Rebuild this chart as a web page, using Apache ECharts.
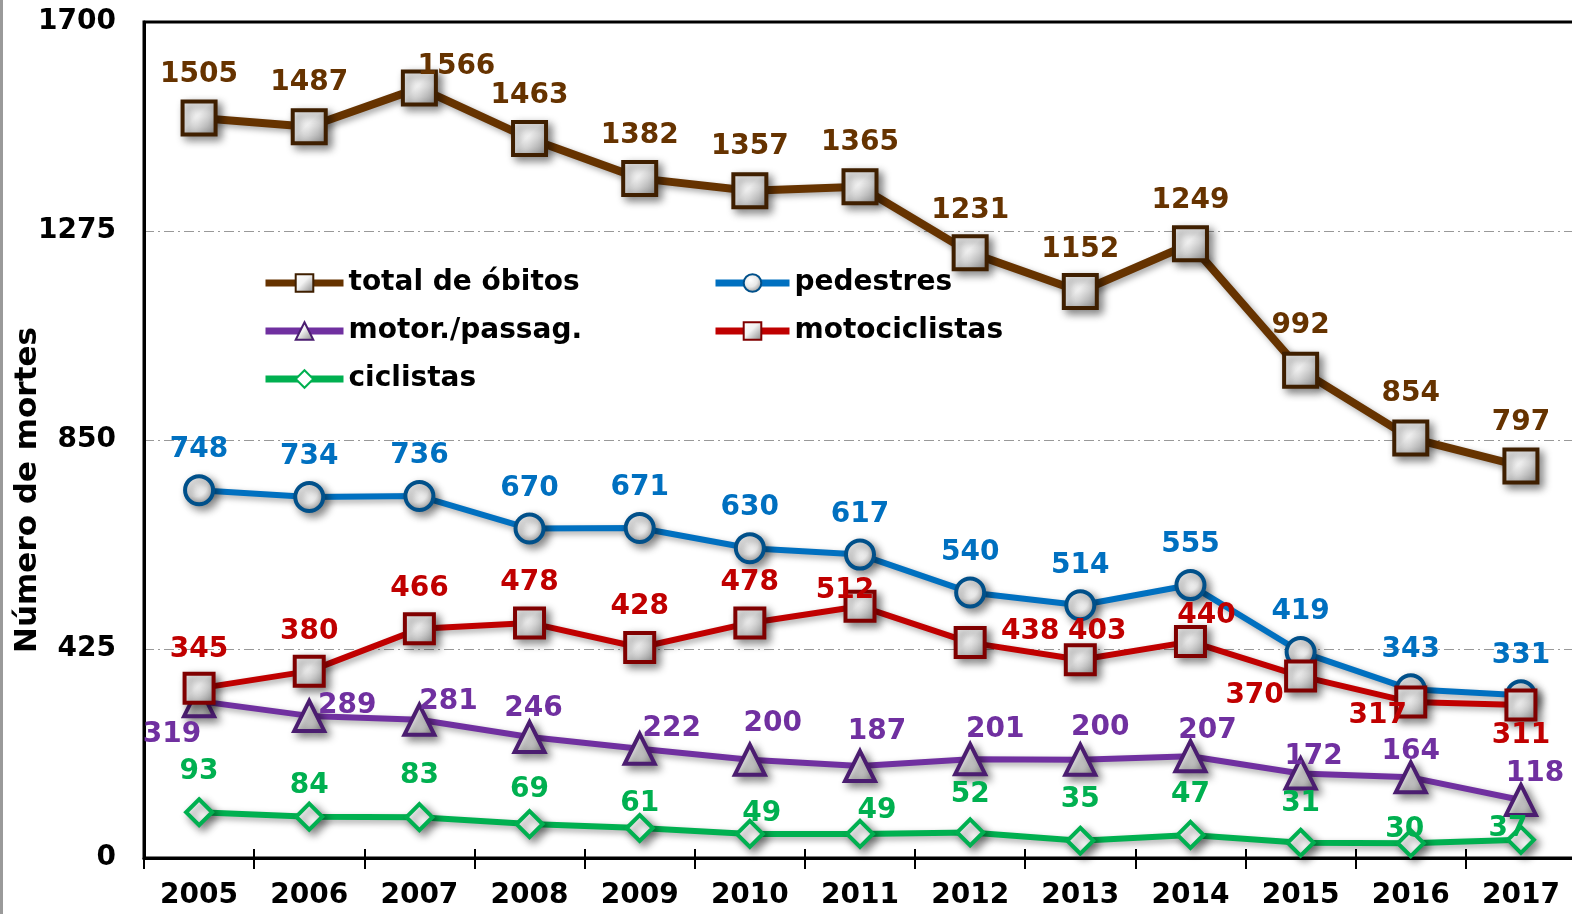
<!DOCTYPE html>
<html>
<head>
<meta charset="utf-8">
<script src="https://cdn.jsdelivr.net/npm/echarts@6/dist/echarts.min.js"></script>
<style>
  html, body { margin: 0; padding: 0; background: #fff; }
  #main { width: 1572px; height: 914px; }
</style>
</head>
<body>
<div id="main"></div>
<script>
// data
var anos = ['2005','2006','2007','2008','2009','2010','2011','2012','2013','2014','2015','2016','2017'];
var totalObitos = [1505, 1487, 1566, 1463, 1382, 1357, 1365, 1231, 1152, 1249, 992, 854, 797];
var pedestres = [748, 734, 736, 670, 671, 630, 617, 540, 514, 555, 419, 343, 331];
var motociclistas = [345, 380, 466, 478, 428, 478, 512, 438, 403, 440, 370, 317, 311];
var motorPassag = [319, 289, 281, 246, 222, 200, 187, 201, 200, 207, 172, 164, 118];
var ciclistas = [93, 84, 83, 69, 61, 49, 49, 52, 35, 47, 31, 30, 37];
var yTicks = [0, 425, 850, 1275, 1700];

// label offsets (px from the marker centre)
var offTotal = [[0,-46],[0,-47],[37,-24],[0,-46],[0,-46],[0,-47],[0,-47],[0,-45],[0,-45],[0,-46],[0,-47],[0,-47],[0,-46]];
var offPed = [[0,-43],[0,-43],[0,-43],[0,-43],[0,-43],[0,-43],[0,-43],[0,-43],[0,-43],[0,-43],[0,-43],[0,-43],[0,-43]];
var offMoto = [[0,-42],[0,-42],[0,-43],[0,-43],[0,-44],[0,-43],[-15,-18],[60,-14],[17,-31],[16,-29],[-46,17],[-33,11],[0,28]];
var offMotor = [[-27,31],[38,-13],[29,-21],[4,-31],[32,-23],[23,-39],[17,-37],[25,-32],[20,-35],[17,-28],[13,-20],[0,-29],[14,-29]];
var offCicl = [[0,-44],[0,-34],[0,-44],[0,-37],[0,-27],[12,-23],[17,-26],[0,-41],[0,-44],[0,-43],[0,-42],[-6,-17],[-13,-14]];

var FONT = 'DejaVu Sans';

function withOffsets(vals, offs) {
    return vals.map(function (v, i) {
        return { value: v, label: { offset: [offs[i][0], offs[i][1] + 3] } };
    });
}

var squareFill = new echarts.graphic.LinearGradient(0, 0, 1, 1, [
    { offset: 0, color: '#ffffff' },
    { offset: 0.45, color: '#f2f2f2' },
    { offset: 1, color: '#7f7f7f' }
]);
var ballFill = new echarts.graphic.RadialGradient(0.4, 0.35, 0.7, [
    { offset: 0, color: '#ffffff' },
    { offset: 0.5, color: '#e8e8e8' },
    { offset: 1, color: '#8a8a8a' }
]);

function mkSeries(name, vals, offs, color, border, symbol, size, fill, lw) {
    return {
        name: name,
        type: 'line',
        data: withOffsets(vals, offs),
        symbol: symbol,
        symbolSize: size,
        lineStyle: {
            color: color,
            width: lw,
            shadowColor: 'rgba(0,0,0,0.35)',
            shadowBlur: 6,
            shadowOffsetX: 3,
            shadowOffsetY: 3
        },
        itemStyle: {
            color: fill,
            borderColor: border,
            borderWidth: 4,
            shadowColor: 'rgba(0,0,0,0.45)',
            shadowBlur: 8,
            shadowOffsetX: 4,
            shadowOffsetY: 4
        },
        label: {
            show: true,
            position: 'inside',
            color: color,
            fontFamily: FONT,
            fontWeight: 'bold',
            fontSize: 28
        },
        emphasis: { disabled: true }
    };
}

var legendText = { fontFamily: FONT, fontWeight: 'bold', fontSize: 28, color: '#000' };

var myChart = echarts.init(document.getElementById('main'));
var option = {
    animation: false,
    backgroundColor: '#fff',
    textStyle: { fontFamily: FONT },
    grid: {
        left: 144,
        right: -4,
        top: 22,
        bottom: 56,
        containLabel: false,
        outerBoundsMode: 'none',
        show: true,
        borderColor: '#000',
        borderWidth: 3
    },
    graphic: [
        {
            type: 'line',
            shape: { x1: 1.5, y1: 0, x2: 1.5, y2: 914 },
            style: { stroke: '#9a9a9a', lineWidth: 3 }
        },
        {
            // y axis title
            type: 'text',
            x: 28,
            y: 490,
            rotation: Math.PI / 2,
            style: {
                text: 'Número de mortes',
                fill: '#000',
                font: 'bold 31px "DejaVu Sans"',
                align: 'center',
                verticalAlign: 'middle'
            }
        }
    ],
    legend: [
        {
            orient: 'vertical',
            left: 262,
            top: 269,
            padding: 0,
            itemWidth: 78,
            itemHeight: 22,
            itemGap: 20,
            data: ['total de óbitos', 'motor./passag.', 'ciclistas'],
            textStyle: legendText,
            lineStyle: { width: 7 }
        },
        {
            orient: 'vertical',
            left: 712,
            top: 269,
            padding: 0,
            itemWidth: 74,
            itemHeight: 22,
            itemGap: 20,
            data: ['pedestres', 'motociclistas'],
            textStyle: legendText,
            lineStyle: { width: 7 }
        }
    ],
    xAxis: [
        {
            type: 'category',
            data: anos,
            axisLine: { lineStyle: { color: '#000', width: 3 } },
            axisTick: { show: true, length: 11, lineStyle: { color: '#000', width: 2 } },
            axisLabel: {
                color: '#000',
                fontFamily: FONT,
                fontWeight: 'bold',
                fontSize: 28,
                margin: 24
            },
            splitLine: { show: false }
        },
        {
            type: 'category',
            data: anos,
            position: 'bottom',
            axisLine: { show: false },
            axisTick: { show: true, inside: true, length: 9, lineStyle: { color: '#000', width: 2 } },
            axisLabel: { show: false },
            splitLine: { show: false }
        }
    ],
    yAxis: {
        type: 'value',
        min: yTicks[0],
        max: yTicks[yTicks.length - 1],
        interval: yTicks[1] - yTicks[0],
        axisLine: { show: true, lineStyle: { color: '#000', width: 3 } },
        axisTick: { show: false },
        axisLabel: {
            color: '#000',
            fontFamily: FONT,
            fontWeight: 'bold',
            fontSize: 28,
            margin: 28,
            formatter: function (v) { return String(v); }
        },
        splitLine: {
            show: true,
            showMinLine: false,
            showMaxLine: false,
            lineStyle: { color: '#999', width: 1, type: [10, 4, 2, 4] }
        }
    },
    series: [
        mkSeries('ciclistas', ciclistas, offCicl, '#00B050', '#00B050', 'diamond', 26, '#ffffff', 6),
        mkSeries('motor./passag.', motorPassag, offMotor, '#7030A0', '#4b1d70', 'triangle', 30, squareFill, 6),
        mkSeries('pedestres', pedestres, offPed, '#0070C0', '#00508a', 'circle', 28, ballFill, 6),
        mkSeries('motociclistas', motociclistas, offMoto, '#C00000', '#800000', 'rect', 29, squareFill, 6),
        mkSeries('total de óbitos', totalObitos, offTotal, '#663300', '#3f1f00', 'rect', 33, squareFill, 8)
    ]
};
myChart.setOption(option);
window.onresize = myChart.resize;
</script>
</body>
</html>
